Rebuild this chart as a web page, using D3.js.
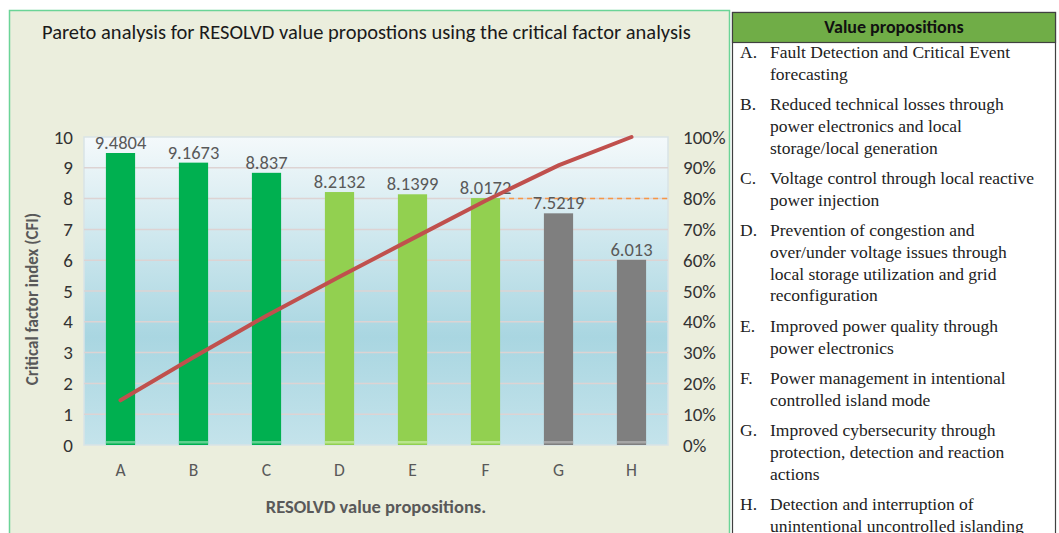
<!DOCTYPE html>
<html>
<head>
<meta charset="utf-8">
<script src="https://cdn.jsdelivr.net/npm/d3@7"></script>
<style>
  body { margin: 0; background: #fff; }
  svg { display: block; }
</style>
</head>
<body>
<div id="d3-chart"></div>
<script>
const categories = ['A', 'B', 'C', 'D', 'E', 'F', 'G', 'H'];
const cfiValues = [9.4804, 9.1673, 8.837, 8.2132, 8.1399, 8.0172, 7.5219, 6.013];
const valueLabels = ['9.4804', '9.1673', '8.837', '8.2132', '8.1399', '8.0172', '7.5219', '6.013'];
const cumulativePct = [14.5, 28.5, 42.0, 54.6, 67.0, 79.3, 90.8, 100];
const barGroups = ['top', 'top', 'top', 'mid', 'mid', 'mid', 'low', 'low'];
const cfiTicks = [0, 1, 2, 3, 4, 5, 6, 7, 8, 9, 10];
const pctTicks = [0, 10, 20, 30, 40, 50, 60, 70, 80, 90, 100];
const cutoffPct = 80;
const cutoffFrom = 'F';

const chartTitle = 'Pareto analysis for RESOLVD value propostions using the critical factor analysis';
const yTitle = 'Critical factor index (CFI)';
const xTitle = 'RESOLVD value propositions.';
const tableTitle = 'Value propositions';
const propositions = [
  ['Fault Detection and Critical Event', 'forecasting'],
  ['Reduced technical losses through', 'power electronics and local', 'storage/local generation'],
  ['Voltage control through local reactive', 'power injection'],
  ['Prevention of congestion and', 'over/under voltage issues through', 'local storage utilization and grid', 'reconfiguration'],
  ['Improved power quality through', 'power electronics'],
  ['Power management in intentional', 'controlled island mode'],
  ['Improved cybersecurity through', 'protection, detection and reaction', 'actions'],
  ['Detection and interruption of', 'unintentional uncontrolled islanding']
];

const W = 1059, H = 533;
const plot = { left: 84, right: 668, top: 137, bottom: 445 };
const sansFont = 'Carlito, "Liberation Sans Narrow", "Liberation Sans", sans-serif';
const serifFont = '"Liberation Serif", "DejaVu Serif", serif';
const textGray = '#595959';
const barColors = { top: '#00B050', mid: '#92D050', low: '#7F7F7F' };
const baseColors = { top: '#5ED08F', mid: '#B9E58D', low: '#A6A6A6' };

const svg = d3.select('#d3-chart').append('svg')
    .attr('width', W)
    .attr('height', H);

// Left panel background
svg.append('rect')
    .attr('x', 9.5).attr('y', 10.5)
    .attr('width', 720).attr('height', H)
    .attr('fill', '#EBEEDD')
    .attr('stroke', '#6BD497')
    .attr('stroke-width', 1.5);

// Plot gradient
const defs = svg.append('defs');
const grad = defs.append('linearGradient')
    .attr('id', 'plotGrad')
    .attr('x1', 0).attr('y1', 0).attr('x2', 0).attr('y2', 1);
grad.append('stop').attr('offset', '0%').attr('stop-color', '#F4F9FB');
grad.append('stop').attr('offset', '65%').attr('stop-color', '#A9D6E1');
grad.append('stop').attr('offset', '100%').attr('stop-color', '#C4E3EB');

// Scales
const xScale = d3.scaleBand()
    .domain(categories)
    .range([plot.left, plot.right])
    .paddingInner(0.6)
    .paddingOuter(0.3);
const yScale = d3.scaleLinear()
    .domain([0, 10])
    .range([plot.bottom, plot.top]);
const pScale = d3.scaleLinear()
    .domain([0, 100])
    .range([plot.bottom, plot.top]);

svg.append('rect')
    .attr('x', plot.left).attr('y', plot.top)
    .attr('width', plot.right - plot.left)
    .attr('height', plot.bottom - plot.top)
    .attr('fill', 'url(#plotGrad)')
    .attr('stroke', '#D9E3E6')
    .attr('stroke-width', 1.5);

// Gridlines
svg.append('g').selectAll('line')
    .data(cfiTicks.slice(1, -1))
    .enter().append('line')
    .attr('x1', plot.left).attr('x2', plot.right)
    .attr('y1', d => yScale(d)).attr('y2', d => yScale(d))
    .attr('stroke', '#DDD3D3')
    .attr('stroke-width', 1.5);

// Title
svg.append('text')
    .attr('x', 42).attr('y', 39)
    .attr('font-family', sansFont)
    .attr('font-size', 20.5)
    .attr('fill', '#1a1a1a')
    .text(chartTitle);

// Axes
const yAxis = d3.axisLeft(yScale).tickValues(cfiTicks).tickSize(0).tickPadding(11);
const gy = svg.append('g')
    .attr('transform', 'translate(' + plot.left + ',0)')
    .call(yAxis);
gy.select('.domain').remove();
gy.selectAll('text')
    .attr('font-family', sansFont).attr('font-size', 19).attr('fill', '#333');

const pAxis = d3.axisRight(pScale).tickValues(pctTicks).tickSize(0).tickPadding(15)
    .tickFormat(d => d + '%');
const gp = svg.append('g')
    .attr('transform', 'translate(' + plot.right + ',0)')
    .call(pAxis);
gp.select('.domain').remove();
gp.selectAll('text')
    .attr('font-family', sansFont).attr('font-size', 19).attr('fill', '#333');

const xAxis = d3.axisBottom(xScale).tickSize(0).tickPadding(19);
const gx = svg.append('g')
    .attr('transform', 'translate(0,' + plot.bottom + ')')
    .call(xAxis);
gx.select('.domain').remove();
gx.selectAll('text')
    .attr('font-family', sansFont).attr('font-size', 17.5).attr('fill', textGray);

// Axis titles
svg.append('text')
    .attr('transform', 'translate(38,' + ((plot.top + plot.bottom) / 2 + 8) + ') rotate(-90)')
    .attr('text-anchor', 'middle')
    .attr('font-family', sansFont).attr('font-size', 17).attr('font-weight', 'bold')
    .attr('fill', textGray)
    .text(yTitle);
svg.append('text')
    .attr('x', (plot.left + plot.right) / 2).attr('y', 513)
    .attr('text-anchor', 'middle')
    .attr('font-family', sansFont).attr('font-size', 18.5).attr('font-weight', 'bold')
    .attr('fill', textGray)
    .text(xTitle);

// Bars
const bars = svg.append('g');
bars.selectAll('.bar')
    .data(categories)
    .enter().append('rect')
    .attr('class', 'bar')
    .attr('x', d => xScale(d))
    .attr('width', xScale.bandwidth())
    .attr('y', (d, i) => yScale(cfiValues[i]))
    .attr('height', (d, i) => plot.bottom - yScale(cfiValues[i]))
    .attr('fill', (d, i) => barColors[barGroups[i]]);
bars.selectAll('.base')
    .data(categories)
    .enter().append('rect')
    .attr('class', 'base')
    .attr('x', d => xScale(d))
    .attr('width', xScale.bandwidth())
    .attr('y', plot.bottom - 4)
    .attr('height', 2.5)
    .attr('fill', (d, i) => baseColors[barGroups[i]]);

// 80% cutoff line
svg.append('line')
    .attr('x1', xScale(cutoffFrom) + xScale.bandwidth())
    .attr('x2', plot.right)
    .attr('y1', pScale(cutoffPct)).attr('y2', pScale(cutoffPct))
    .attr('stroke', '#F79646')
    .attr('stroke-width', 1.5)
    .attr('stroke-dasharray', '5,4');

// Data labels
svg.append('g').selectAll('text')
    .data(categories)
    .enter().append('text')
    .attr('x', d => xScale(d) + xScale.bandwidth() / 2)
    .attr('y', (d, i) => yScale(cfiValues[i]) - 4)
    .attr('text-anchor', 'middle')
    .attr('font-family', sansFont).attr('font-size', 18.5)
    .attr('fill', textGray)
    .text((d, i) => valueLabels[i]);

// Cumulative line
const line = d3.line()
    .x(d => xScale(d[0]) + xScale.bandwidth() / 2)
    .y(d => pScale(d[1]));
svg.append('path')
    .datum(categories.map((c, i) => [c, cumulativePct[i]]))
    .attr('d', line)
    .attr('fill', 'none')
    .attr('stroke', '#C0504D')
    .attr('stroke-width', 4)
    .attr('stroke-linecap', 'round');

// Right table
const tbl = { left: 732.5, right: 1055.5, top: 12.5, headH: 30 };
svg.append('rect')
    .attr('x', tbl.left).attr('y', tbl.top)
    .attr('width', tbl.right - tbl.left).attr('height', H)
    .attr('fill', '#fff')
    .attr('stroke', '#404040').attr('stroke-width', 1.2);
svg.append('rect')
    .attr('x', tbl.left).attr('y', tbl.top)
    .attr('width', tbl.right - tbl.left).attr('height', tbl.headH)
    .attr('fill', '#70AD47')
    .attr('stroke', '#404040').attr('stroke-width', 1.2);
svg.append('text')
    .attr('x', (tbl.left + tbl.right) / 2).attr('y', 33)
    .attr('text-anchor', 'middle')
    .attr('font-family', sansFont).attr('font-size', 18).attr('font-weight', 'bold')
    .attr('fill', '#111')
    .text(tableTitle);

const lineH = 21.7, itemGap = 8.8;
let yPos = 58;
const items = svg.append('g')
    .attr('font-family', serifFont).attr('font-size', 17.5).attr('fill', '#222');
propositions.forEach((lines, i) => {
    items.append('text')
        .attr('x', 740).attr('y', yPos)
        .text(categories[i] + '.');
    lines.forEach((t, j) => {
        items.append('text')
            .attr('x', 770).attr('y', yPos + j * lineH)
            .text(t);
    });
    yPos += lines.length * lineH + itemGap;
});
</script>
</body>
</html>
